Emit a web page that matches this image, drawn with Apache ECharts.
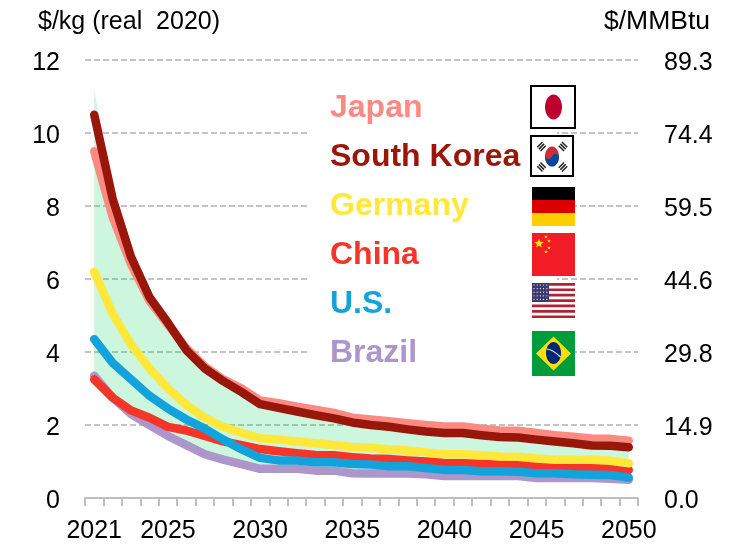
<!DOCTYPE html>
<html>
<head>
<meta charset="utf-8">
<style>html,body{margin:0;padding:0;background:#fff}#chart{width:738px;height:544px}</style>
<script src="https://cdn.jsdelivr.net/npm/echarts@6/dist/echarts.min.js"></script>
</head>
<body>
<div id="chart"></div>
<script>
var years = [];
for (var y = 2021; y <= 2050; y++) years.push(String(y));
var shownYears = ['2021', '2025', '2030', '2035', '2040', '2045', '2050'];
var rightLabels = ['0.0', '14.9', '29.8', '44.6', '59.5', '74.4', '89.3'];

var japan = [9.5, 7.7, 6.4, 5.4, 4.75, 4.1, 3.6, 3.25, 3.0, 2.67, 2.6, 2.5, 2.42, 2.33, 2.2, 2.15, 2.1, 2.05, 2.0, 1.96, 1.96, 1.9, 1.85, 1.84, 1.78, 1.72, 1.68, 1.63, 1.62, 1.57];
var korea = [10.5, 8.2, 6.6, 5.5, 4.8, 4.05, 3.55, 3.2, 2.9, 2.57, 2.47, 2.37, 2.27, 2.18, 2.07, 2.0, 1.95, 1.88, 1.82, 1.78, 1.78, 1.72, 1.67, 1.66, 1.6, 1.55, 1.5, 1.44, 1.43, 1.39];
var germany = [6.2, 5.05, 4.2, 3.55, 3.0, 2.55, 2.2, 1.95, 1.78, 1.64, 1.6, 1.55, 1.5, 1.45, 1.4, 1.38, 1.33, 1.3, 1.25, 1.2, 1.2, 1.17, 1.14, 1.13, 1.08, 1.05, 1.05, 1.05, 1.02, 0.95];
var china = [3.25, 2.75, 2.4, 2.2, 1.95, 1.85, 1.7, 1.55, 1.45, 1.34, 1.28, 1.23, 1.18, 1.17, 1.12, 1.08, 1.07, 1.03, 1.0, 0.96, 0.95, 0.93, 0.92, 0.92, 0.88, 0.87, 0.84, 0.84, 0.83, 0.77];
var us = [4.35, 3.7, 3.25, 2.8, 2.45, 2.15, 1.9, 1.6, 1.33, 1.1, 1.03, 1.03, 0.98, 0.98, 0.93, 0.92, 0.87, 0.87, 0.82, 0.77, 0.77, 0.73, 0.73, 0.72, 0.68, 0.68, 0.65, 0.64, 0.63, 0.56];
var brazil = [3.35, 2.75, 2.3, 2.0, 1.7, 1.45, 1.2, 1.05, 0.93, 0.8, 0.8, 0.8, 0.75, 0.75, 0.68, 0.67, 0.67, 0.67, 0.65, 0.6, 0.6, 0.6, 0.6, 0.6, 0.55, 0.55, 0.55, 0.55, 0.53, 0.5];
// 绿色范围带
var bandLow = [3.3, 2.75, 2.3, 2.0, 1.7, 1.45, 1.2, 1.05, 0.93, 0.8, 0.8, 0.8, 0.75, 0.75, 0.68, 0.67, 0.67, 0.67, 0.65, 0.6, 0.6, 0.6, 0.6, 0.6, 0.55, 0.55, 0.55, 0.55, 0.53, 0.5];
var bandHigh = [11.2, 8.4, 6.7, 5.5, 4.8, 4.05, 3.55, 3.2, 2.9, 2.57, 2.47, 2.37, 2.27, 2.18, 2.07, 2.0, 1.95, 1.88, 1.82, 1.78, 1.78, 1.72, 1.67, 1.66, 1.6, 1.55, 1.5, 1.44, 1.43, 1.39];

var FONT = '"Liberation Sans", Arial, sans-serif';
var myChart = echarts.init(document.getElementById('chart'));

function line(name, data, color) {
    return {
        name: name, type: 'line', data: data, symbol: 'none', silent: true,
        lineStyle: { color: color, width: 8.5, cap: 'round', join: 'round' },
        itemStyle: { color: color }
    };
}
function legendItem(name, color) {
    return { name: name, icon: 'none', textStyle: { color: color } };
}
function rect(x, y, w, h, fill) {
    return { type: 'rect', shape: { x: x, y: y, width: w, height: h }, style: { fill: fill } };
}
function poly(points, fill) {
    return { type: 'polygon', shape: { points: points }, style: { fill: fill } };
}
function star(cx, cy, r, fill) {
    var pts = [];
    for (var i = 0; i < 10; i++) {
        var a = -Math.PI / 2 + i * Math.PI / 5, d = i % 2 ? r * 0.42 : r;
        pts.push([cx + d * Math.cos(a), cy + d * Math.sin(a)]);
    }
    return poly(pts, fill);
}
// 国旗
function flags() {
    var g = [];
    // Japan
    g.push({ type: 'rect', shape: { x: 531, y: 86, width: 44, height: 42 }, style: { fill: '#fff', stroke: '#000', lineWidth: 2 } });
    g.push({ type: 'ellipse', shape: { cx: 553.5, cy: 107, rx: 8.5, ry: 12.5 }, style: { fill: '#bc002d' } });
    // South Korea
    g.push({ type: 'rect', shape: { x: 531, y: 136, width: 42, height: 40 }, style: { fill: '#fff', stroke: '#000', lineWidth: 2 } });
    g.push({ type: 'ellipse', shape: { cx: 552, cy: 156.5, rx: 7, ry: 10 }, style: { fill: '#cd2e3a' } });
    var blue = [], i;
    for (i = 0; i <= 16; i++) {
        var t = Math.PI * i / 16;
        blue.push([552 + 7 * Math.cos(t), 156.5 + 10 * Math.sin(t)]);
    }
    for (i = 0; i <= 16; i++) {
        blue.push([545 + 14 * i / 16, 156.5 + 2.8 * Math.sin(2 * Math.PI * i / 16)]);
    }
    g.push(poly(blue, '#0047a0'));
    [[541.5, 146.5, 1], [563, 146.5, -1], [541.5, 167, -1], [563, 167, 1]].forEach(function (t) {
        for (var i = -1; i <= 1; i++) {
            var dx = t[2] * 1.6 * i, dy = 1.9 * i;
            g.push({
                type: 'line',
                shape: { x1: t[0] + dx - t[2] * 2.6, y1: t[1] + dy + 2.6, x2: t[0] + dx + t[2] * 2.6, y2: t[1] + dy - 2.6 },
                style: { stroke: '#222', lineWidth: 1.5 }
            });
        }
    });
    // Germany
    g.push(rect(532, 187, 43, 13, '#000'), rect(532, 200, 43, 13, '#dd0000'), rect(532, 213, 43, 13, '#ffce00'));
    // China
    g.push(rect(532, 233, 43, 43, '#f11c26'));
    g.push(star(539, 243.5, 5, '#ffe600'), star(546, 237, 2, '#ffde00'), star(549, 241, 2, '#ffde00'),
        star(549, 248, 2, '#ffde00'), star(546, 252, 2, '#ffde00'));
    // U.S.
    g.push(rect(532, 283, 43, 35, '#fff'));
    for (i = 0; i < 7; i++) g.push(rect(532, 283 + i * 5.4, 43, 2.7, '#b22234'));
    g.push(rect(532, 283, 17, 19, '#3c3b6e'));
    for (var r = 0; r < 5; r++) {
        for (var c = 0; c < 5; c++) {
            g.push({ type: 'circle', shape: { cx: 534 + c * 3.2, cy: 285 + r * 3.6, r: 0.6 }, style: { fill: '#fff' } });
        }
    }
    // Brazil
    g.push(rect(532, 331, 43, 45, '#009b3a'));
    g.push(poly([[553.5, 336.5], [571, 353.5], [553.5, 370.5], [536, 353.5]], '#fedf00'));
    g.push({ type: 'ellipse', shape: { cx: 553.5, cy: 353, rx: 7.5, ry: 11 }, style: { fill: '#002776' } });
    g.push({ type: 'bezierCurve', shape: { x1: 546.5, y1: 349, cpx1: 552, cpy1: 349, x2: 560.5, y2: 357 }, style: { stroke: '#cfe8e0', fill: 'none', lineWidth: 1.2 } });
    g.forEach(function (e) { e.z = 6; });
    // 图例背后的白底，遮住网格线
    var cover = rect(307, 100, 250, 280, '#fff');
    cover.z = 1;
    g.unshift(cover);
    return g;
}

// 刻度文字略向下移
var tickRich = { t: { fontFamily: FONT, fontSize: 25, color: '#000', padding: [6, 0, 0, 0] } };

var option = {
    animation: false,
    backgroundColor: '#fff',
    textStyle: { fontFamily: FONT },
    grid: { left: 85, right: 100, top: 60, height: 438 },
    legend: {
        orient: 'vertical', left: 320, top: 87, itemGap: 17, itemWidth: 0, itemHeight: 32,
        selectedMode: false, z: 5,
        textStyle: { fontFamily: FONT, fontSize: 32, fontWeight: 'bold' },
        data: [
            legendItem('Japan', '#fb8a82'),
            legendItem('South Korea', '#98170a'),
            legendItem('Germany', '#ffe83a'),
            legendItem('China', '#f5352a'),
            legendItem('U.S.', '#12a2dc'),
            legendItem('Brazil', '#ac96ca')
        ]
    },
    xAxis: {
        type: 'category', data: years, boundaryGap: true,
        axisLine: { lineStyle: { color: '#bfbfbf', width: 2 } },
        axisTick: { show: true, interval: 0, length: 8, lineStyle: { color: '#bfbfbf', width: 2 } },
        axisLabel: {
            color: '#000', fontSize: 25, margin: 21, hideOverlap: false,
            interval: function (i, v) { return shownYears.indexOf(v) >= 0; }
        }
    },
    yAxis: [{
        type: 'value', min: 0, max: 12, interval: 2,
        name: '$/kg (real  2020)', nameLocation: 'end', nameGap: 25,
        nameTextStyle: { color: '#000', fontSize: 25, align: 'left', padding: [0, 0, 0, -47] },
        axisLine: { show: false }, axisTick: { show: false },
        axisLabel: {
            margin: 25, rich: tickRich,
            formatter: function (v) { return '{t|' + v + '}'; }
        },
        splitLine: { lineStyle: { color: '#c4c4c4', width: 2, type: [6, 3] } }
    }, {
        type: 'value', min: 0, max: 12, interval: 2, position: 'right',
        name: '$/MMBtu', nameLocation: 'end', nameGap: 25,
        nameTextStyle: { color: '#000', fontSize: 26.5, align: 'right', padding: [0, -72, 0, 0] },
        axisLine: { show: false }, axisTick: { show: false },
        axisLabel: {
            margin: 26, rich: tickRich,
            formatter: function (v) { return '{t|' + rightLabels[v / 2] + '}'; }
        },
        splitLine: { show: false }
    }],
    series: [
        {
            name: 'bandBase', type: 'line', stack: 'band', data: bandLow, symbol: 'none', silent: true,
            lineStyle: { width: 0 }, areaStyle: { opacity: 0 }
        },
        {
            name: 'band', type: 'line', stack: 'band', symbol: 'none', silent: true,
            data: bandHigh.map(function (v, i) { return v - bandLow[i]; }),
            lineStyle: { width: 0 }, areaStyle: { color: 'rgba(0,210,90,0.2)', opacity: 1 }
        },
        line('Japan', japan, '#fb8a82'),
        line('South Korea', korea, '#98170a'),
        line('Brazil', brazil, '#ac96ca'),
        line('China', china, '#f5352a'),
        line('U.S.', us, '#12a2dc'),
        line('Germany', germany, '#ffe83a')
    ],
    graphic: { elements: flags() }
};
myChart.setOption(option);
</script>
</body>
</html>
